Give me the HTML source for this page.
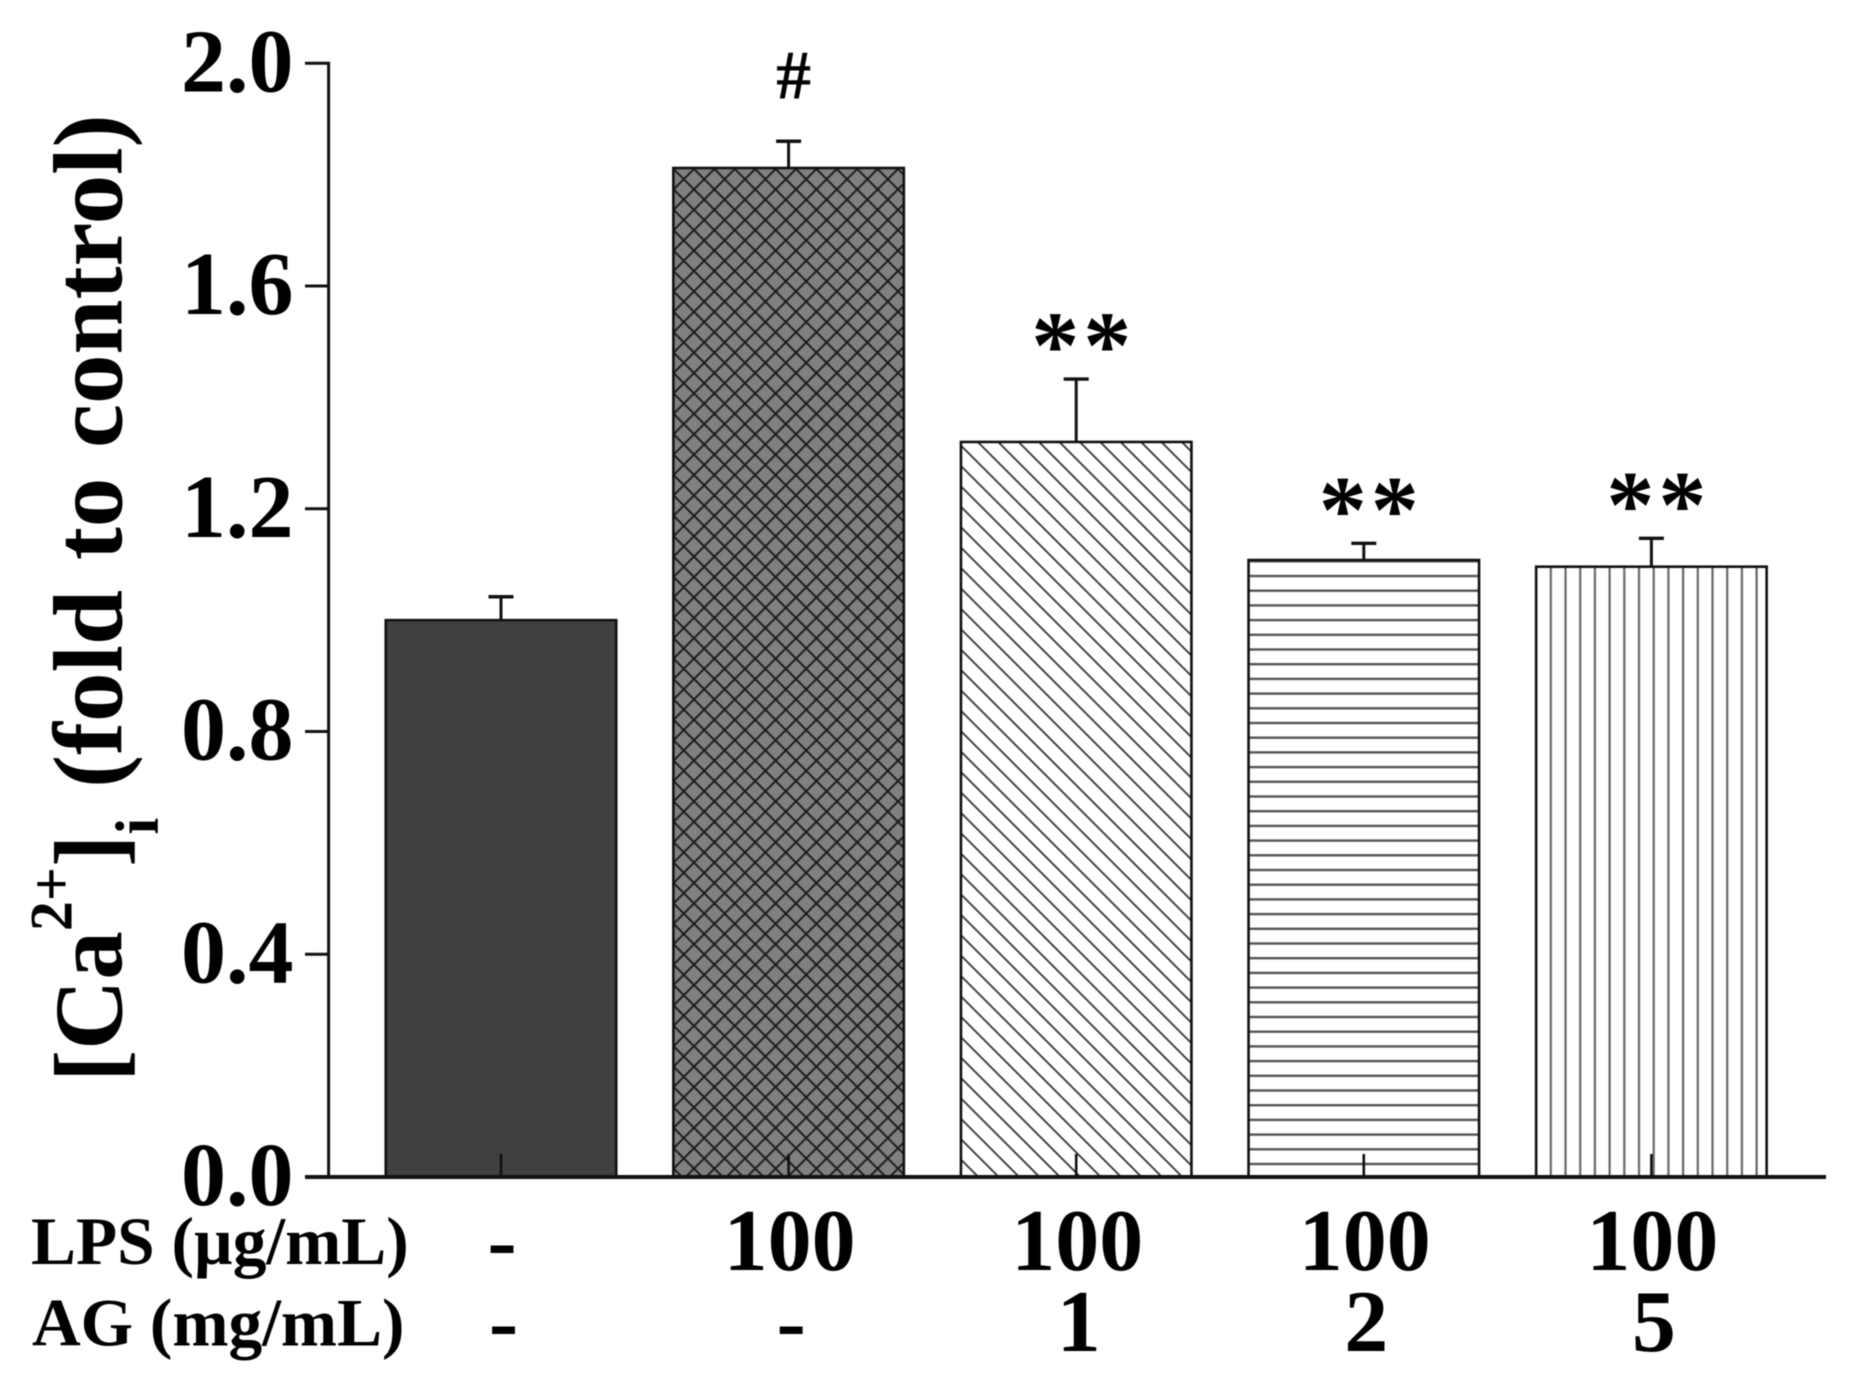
<!DOCTYPE html>
<html>
<head>
<meta charset="utf-8">
<title>Intracellular calcium bar chart</title>
<style>
html,body{margin:0;padding:0;background:#fff;width:1850px;height:1388px;overflow:hidden}
svg{display:block;filter:blur(0.6px)}
text{font-family:"Liberation Serif","Noto Serif CJK SC",serif;font-weight:bold;fill:#000}
</style>
</head>
<body>
<svg id="chart" xmlns="http://www.w3.org/2000/svg" width="1850" height="1388" viewBox="0 0 1850 1388">
  <defs>
    <pattern id="hatch-cross" patternUnits="userSpaceOnUse" x="694" y="169" width="20.4" height="20.4">
      <rect width="20.4" height="20.4" fill="#808080"/>
      <path d="M0 0L20.4 20.4M20.4 0L0 20.4" stroke="#1c1c1c" stroke-width="2" fill="none"/>
    </pattern>
    <pattern id="hatch-diagonal" patternUnits="userSpaceOnUse" x="960.4" y="445" width="20.4" height="20.4">
      <rect width="20.4" height="20.4" fill="#fff"/>
      <path d="M-2 -2L22.4 22.4M-2 18.4L2 22.4M18.4 -2L22.4 2" stroke="#333" stroke-width="1.8" fill="none"/>
    </pattern>
    <pattern id="hatch-horizontal" patternUnits="userSpaceOnUse" x="0" y="1162.8" width="10" height="14.7">
      <rect width="10" height="14.7" fill="#fff"/>
      <rect x="0" y="0" width="10" height="2.4" fill="#555"/>
    </pattern>
    <pattern id="hatch-vertical" patternUnits="userSpaceOnUse" x="1536" y="0" width="14.7" height="10">
      <rect width="14.7" height="10" fill="#fff"/>
      <rect x="-1" y="0" width="2.2" height="10" fill="#666"/>
      <rect x="13.7" y="0" width="1" height="10" fill="#666"/>
    </pattern>
  </defs>

  <text transform="translate(121.7 1082) rotate(-90)" font-size="97">[Ca<tspan font-size="60" dy="-50">2+</tspan><tspan dy="50">]</tspan><tspan font-size="61" dy="36">i</tspan><tspan font-size="99" word-spacing="5" dy="-36"> (fold to control)</tspan></text>

  <text x="31" y="1264" font-size="67.4">LPS (µg/mL)</text>
  <text x="32" y="1345.5" font-size="67.4">AG (mg/mL)</text>
</svg>

<script>
// Chart data
const groupKeys = ['control', 'lps', 'ag-1', 'ag-2', 'ag-5'];
const barValues = [1.0, 1.812, 1.32, 1.108, 1.096];
const errorValues = [0.042, 0.048, 0.113, 0.03, 0.051];
const significance = ['', '#', '**', '**', '**'];
const barFills = ['#404040', 'url(#hatch-cross)', 'url(#hatch-diagonal)', 'url(#hatch-horizontal)', 'url(#hatch-vertical)'];
const yTickValues = [0, 0.4, 0.8, 1.2, 1.6, 2.0];
const yTickLabels = ['0.0', '0.4', '0.8', '1.2', '1.6', '2.0'];
const lpsLabels = ['-', '100', '100', '100', '100'];
const agLabels = ['-', '-', '1', '2', '5'];

// Axis functions
const Y0 = 1177, YTOP = 63.3, YMAX = 2;
const AXIS_X = 328.6, X_FIRST = 501, X_STEP = 287.6, BAR_W = 230.5;
function yScale(v) { return Y0 - (v / YMAX) * (Y0 - YTOP); }
function xScale(i) { return X_FIRST + i * X_STEP; }

const svg = document.getElementById('chart');
const NS = 'http://www.w3.org/2000/svg';
function make(tag, props, parent) {
  const el = document.createElementNS(NS, tag);
  for (const k in props) el.setAttribute(k, props[k]);
  (parent || svg).appendChild(el);
  return el;
}

// Bars, error bars and significance marks
barValues.forEach((v, i) => {
  const cx = xScale(i), top = yScale(v), capY = yScale(v + errorValues[i]);

  const bar = make('rect', { x: cx - BAR_W / 2, y: top, width: BAR_W, height: Y0 - top, fill: barFills[i], stroke: '#111', 'stroke-width': 2.6 });
  
  

  const stem = make('line', { x1: cx, x2: cx, y1: top, y2: capY, stroke: '#111', 'stroke-width': 3 });
  
  

  const cap = make('line', { x1: cx - 12.5, x2: cx + 12.5, y1: capY, y2: capY, stroke: '#111', 'stroke-width': 3.4 });
  
  

  if (significance[i]) {
    const isHash = significance[i] === '#';
    const mark = make('text', { x: isHash ? cx + 5 : cx + 7, y: isHash ? capY - 43 : capY - 1, 'text-anchor': 'middle', 'font-size': isHash ? 70 : 96 });
    if (!isHash) mark.style.letterSpacing = '4px';
    mark.textContent = significance[i];
    
    
  }

  const xt = make('line', { x1: cx, x2: cx, y1: Y0, y2: Y0 - 23, stroke: '#111', 'stroke-width': 2.6 });
  
  

  const lps = make('text', { x: cx + 1, y: 1270, 'text-anchor': 'middle', 'font-size': 88 });
  lps.textContent = lpsLabels[i];
  
  

  const ag = make('text', { x: cx + 2.5, y: 1351, 'text-anchor': 'middle', 'font-size': 88 });
  ag.textContent = agLabels[i];
  
  
});

// Y axis
const yAxis = make('line', { x1: AXIS_X, x2: AXIS_X, y1: YTOP - 1.5, y2: Y0, stroke: '#111', 'stroke-width': 3 });



yTickValues.forEach((v, i) => {
  const y = yScale(v);
  const t = make('line', { x1: 305, x2: AXIS_X, y1: y, y2: y, stroke: '#111', 'stroke-width': 3 });
  
  

  const lab = make('text', { x: 293.5, y: y + 28, 'text-anchor': 'end', 'font-size': 90 });
  lab.textContent = yTickLabels[i];
  
  
});

// X axis
const xAxis = make('line', { x1: 305, x2: 1826, y1: Y0, y2: Y0, stroke: '#111', 'stroke-width': 4 });


</script>
</body>
</html>
